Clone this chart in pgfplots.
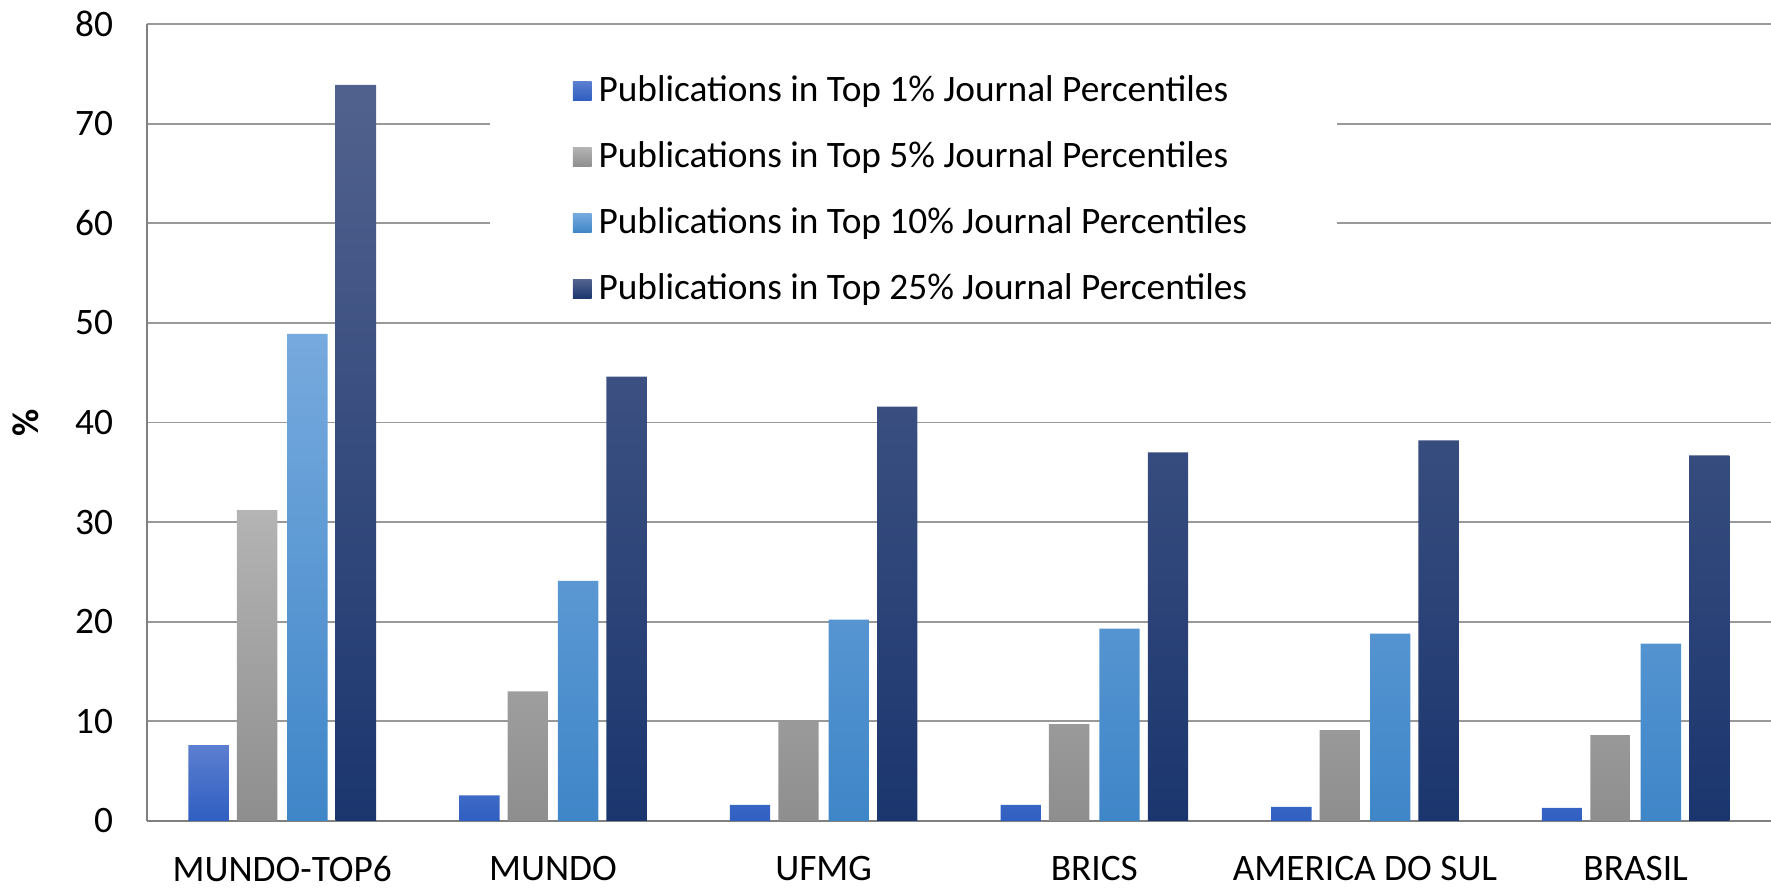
\documentclass[border=0pt]{standalone}
\usepackage{fontspec}
\setmainfont{Carlito}
\usepackage{pgfplots}
\usepackage{pgfplotstable}
\pgfplotsset{compat=1.18}

\definecolor{aTop}{HTML}{5C7ED0}
\definecolor{aBot}{HTML}{2F5FC1}
\definecolor{bTop}{HTML}{B4B4B4}
\definecolor{bBot}{HTML}{8E8E8E}
\definecolor{cTop}{HTML}{77AADE}
\definecolor{cBot}{HTML}{3F86C8}
\definecolor{dTop}{HTML}{52628E}
\definecolor{dBot}{HTML}{1B366E}

% share (%) of publications per journal percentile band
\pgfplotstableread{
x t1 t5 t10 t25
0 7.6 31.2 48.9 73.9
1 2.55 13.0 24.1 44.6
2 1.6 10.1 20.2 41.6
3 1.6 9.7 19.3 37.0
4 1.4 9.1 18.8 38.2
5 1.3 8.6 17.8 36.7
}\data

\begin{document}
\fontsize{10.8}{13}\selectfont
\begin{tikzpicture}
\begin{axis}[
  name=ax,
  scale only axis, width=469.7pt, height=230.4pt,
  ybar, bar width=0.149,
  xmin=-0.5, xmax=5.5, ymin=0, ymax=80,
  ytick distance=10,
  xtick=data,
  xticklabels={MUNDO-TOP6, MUNDO, UFMG, BRICS, AMERICA DO SUL, BRASIL},
  major tick length=0pt,
  xticklabel style={yshift=-6.4pt},
  yticklabel style={xshift=-6pt},
  /pgf/number format/assume math mode=true,
  axis x line*=bottom, axis y line*=left,
  axis line style={black!50, line width=0.6pt},
  ymajorgrids, grid style={black!40, line width=0.5pt},
  ylabel={\textbf{\%}},
  every axis y label/.style={at={(rel axis cs:0,0.5)}, xshift=-35pt, rotate=90, anchor=center},
  legend cell align=left,
  legend style={at={(0.472,0.950)}, anchor=north, draw=none, fill=white,
    inner xsep=24pt, inner ysep=2pt, row sep=8pt,
    nodes={inner ysep=1pt}},
  legend image code/.code={\path[#1, draw=none] (-1.3pt,-2.7pt) rectangle (4.1pt,2.7pt);},
]
\addplot[draw=none, top color=aTop, bottom color=aBot, bar shift=-0.272] table[x=x, y=t1] {\data};
\addplot[draw=none, top color=bTop, bottom color=bBot, bar shift=-0.093] table[x=x, y=t5] {\data};
\addplot[draw=none, top color=cTop, bottom color=cBot, bar shift=0.093] table[x=x, y=t10] {\data};
\addplot[draw=none, top color=dTop, bottom color=dBot, bar shift=0.272] table[x=x, y=t25] {\data};
\legend{Publications in Top 1\% Journal Percentiles,
  Publications in Top 5\% Journal Percentiles,
  Publications in Top 10\% Journal Percentiles,
  Publications in Top 25\% Journal Percentiles}
\end{axis}
\pgfresetboundingbox
\path ([shift={(-42.5pt,-20.3pt)}]ax.south west) rectangle ([yshift=7pt]ax.north east);
\end{tikzpicture}
\end{document}
